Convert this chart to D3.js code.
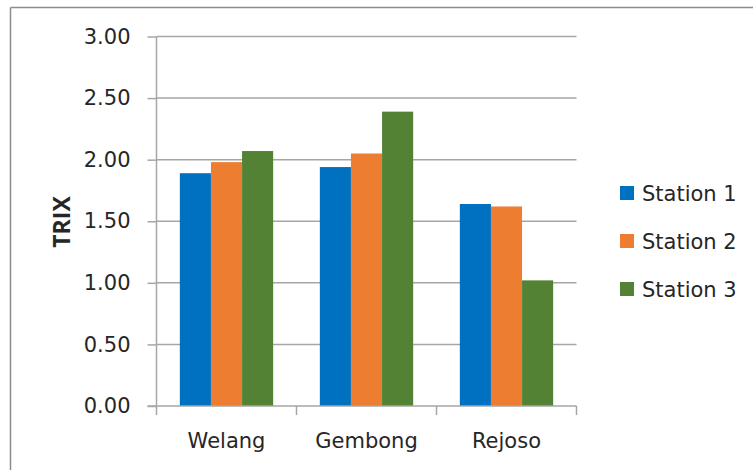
<!DOCTYPE html>
<html>
<head>
<meta charset="utf-8">
<script src="https://cdn.jsdelivr.net/npm/d3@7"></script>
<style>
  body { margin: 0; background: #fff; }
  svg text { font-family: "DejaVu Sans", sans-serif; fill: #262626; }
</style>
</head>
<body>
<svg width="753" height="470"></svg>
<script>
const sites = ["Welang", "Gembong", "Rejoso"];
const stations = ["Station 1", "Station 2", "Station 3"];
const station1 = [1.89, 1.94, 1.64];
const station2 = [1.98, 2.05, 1.62];
const station3 = [2.07, 2.39, 1.02];
const yTicks = [0, 0.5, 1, 1.5, 2, 2.5, 3];
const colors = ["#0070C0", "#ED7D31", "#548235"];

const series = [station1, station2, station3];

const svg = d3.select("svg");
const margin = { top: 36.5, left: 156.5 };
const width = 420;
const height = 369.5;
const g = svg.append("g").attr("transform", `translate(${margin.left},${margin.top})`);

// chart frame (only top and left edges are visible)
svg.append("line").attr("x1", 10.5).attr("x2", 753).attr("y1", 7.5).attr("y2", 7.5)
    .attr("stroke", "#8c8c8c").attr("stroke-width", 1.5);
svg.append("line").attr("x1", 10.5).attr("x2", 10.5).attr("y1", 7.5).attr("y2", 470)
    .attr("stroke", "#8c8c8c").attr("stroke-width", 1.5);

const x = d3.scaleBand().domain(sites).range([0, width]);
const y = d3.scaleLinear().domain([0, 3]).range([height, 0]);

// bars take 3 slots out of 4.5 (gap width 150%)
const barW = x.bandwidth() / 4.5;
const groupOffset = (x.bandwidth() - 3 * barW) / 2;

// gridlines
g.selectAll(".grid").data(yTicks.filter(d => d > 0)).enter()
    .append("line")
    .attr("x1", 0).attr("x2", width)
    .attr("y1", d => y(d)).attr("y2", d => y(d))
    .attr("stroke", "#a6a6a6").attr("stroke-width", 1.5);

// bars
series.forEach((vals, s) => {
    g.selectAll(".bar" + s).data(vals).enter()
        .append("rect")
        .attr("x", (d, i) => x(sites[i]) + groupOffset + s * barW)
        .attr("y", d => y(d))
        .attr("width", barW)
        .attr("height", d => y(0) - y(d))
        .attr("fill", colors[s]);
});

// y axis
const yAxis = g.append("g")
    .call(d3.axisLeft(y).tickValues(yTicks).tickFormat(d3.format(".2f")).tickSize(9).tickPadding(17));
yAxis.select(".domain").attr("stroke", "#a6a6a6").attr("stroke-width", 1.5).attr("d", `M0,${height}V0`);
yAxis.selectAll(".tick line").attr("stroke", "#a6a6a6").attr("stroke-width", 1.5);
yAxis.selectAll(".tick text").attr("font-size", 21).attr("fill", "#262626")
    .style("font-family", "'DejaVu Sans', sans-serif");

// x axis
const xAxis = g.append("g").attr("transform", `translate(0,${height})`);
xAxis.append("line").attr("x1", -9).attr("x2", width).attr("y1", 0).attr("y2", 0)
    .attr("stroke", "#a6a6a6").attr("stroke-width", 1.5);
const bounds = [0].concat(sites.map(s => x(s) + x.bandwidth()));
xAxis.selectAll(".xt").data(bounds).enter()
    .append("line")
    .attr("x1", d => d).attr("x2", d => d)
    .attr("y1", 0).attr("y2", 9)
    .attr("stroke", "#a6a6a6").attr("stroke-width", 1.5);
xAxis.selectAll(".xl").data(sites).enter()
    .append("text")
    .attr("x", d => x(d) + x.bandwidth() / 2)
    .attr("y", 42)
    .attr("text-anchor", "middle")
    .attr("font-size", 21)
    .text(d => d);

// y axis title
svg.append("text")
    .attr("transform", "translate(70,222) rotate(-90)")
    .attr("text-anchor", "middle")
    .attr("font-size", 23)
    .attr("font-weight", "bold")
    .style("font-family", "'Open Sans', sans-serif")
    .text("TRIX");

// legend
const legend = svg.append("g").attr("transform", "translate(620,193)");
const rows = legend.selectAll(".lg").data(stations).enter()
    .append("g")
    .attr("transform", (d, i) => `translate(0,${i * 48})`);
rows.append("rect").attr("x", 0).attr("y", -7).attr("width", 14).attr("height", 14)
    .attr("fill", (d, i) => colors[i]);
rows.append("text").attr("x", 22).attr("y", 7.5).attr("font-size", 21).text(d => d);
</script>
</body>
</html>
